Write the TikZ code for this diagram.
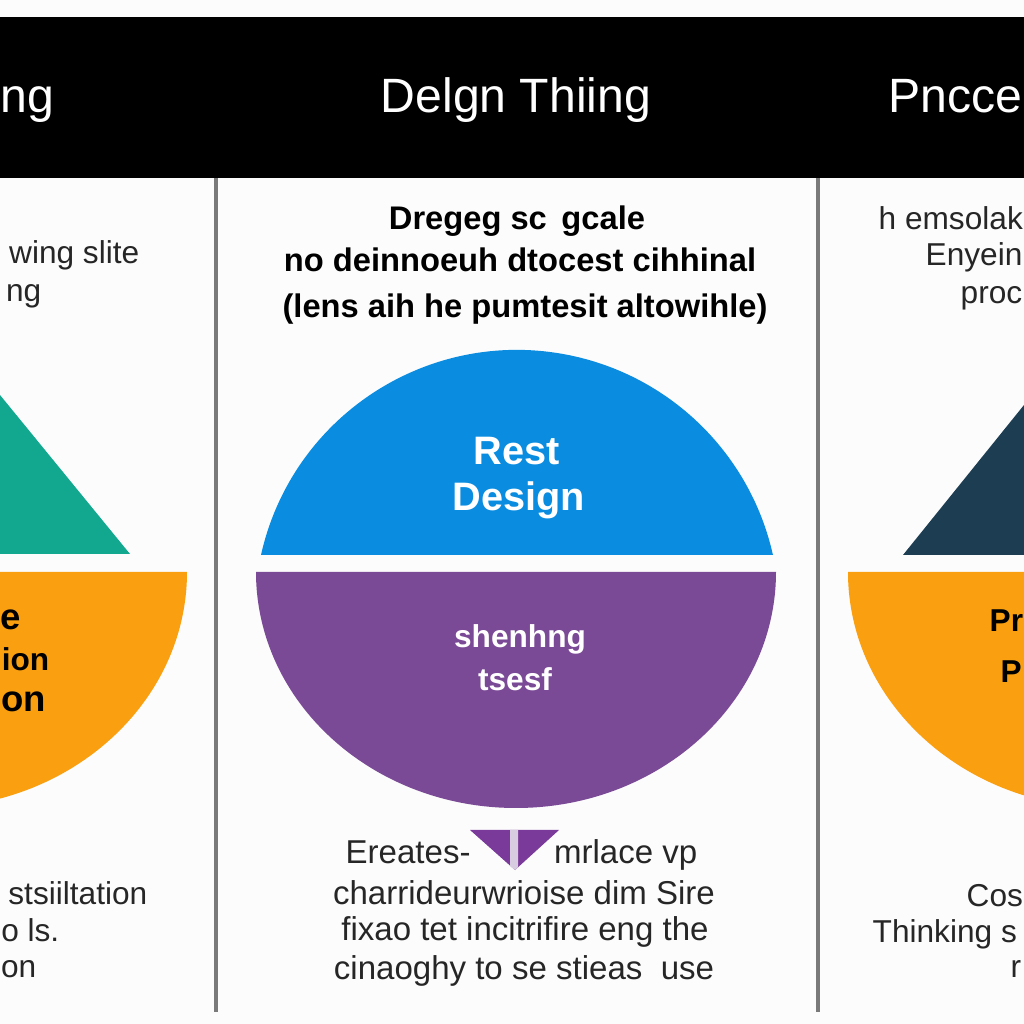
\documentclass[tikz,border=0pt]{standalone}
\usepackage{fontspec}
\setmainfont{Liberation Sans}
\definecolor{ruleGrey}{HTML}{7A7A7A}
\definecolor{capBlue}{HTML}{0A8CE0}
\definecolor{capPurple}{HTML}{7B4A96}
\definecolor{capTeal}{HTML}{12A88F}
\definecolor{capOrange}{HTML}{FA9F0F}
\definecolor{capNavy}{HTML}{1D3D52}
\definecolor{markPurple}{HTML}{7A3A9A}
\definecolor{markStripe}{HTML}{D8CCE0}
\tikzset{
  headtext/.style={anchor=base,inner sep=0pt,text=white,font=\fontsize{13.7}{14}\selectfont},
  bodytext/.style={anchor=base,inner sep=0pt,text=black!85,font=\fontsize{9}{9}\selectfont},
  lowtext/.style={bodytext,font=\fontsize{9.4}{9}\selectfont},
  leadtext/.style={bodytext,text=black,font=\fontsize{9.3}{9.3}\selectfont\bfseries},
  captext/.style={anchor=base,inner sep=0pt,font=\fontsize{10.4}{10}\selectfont\bfseries},
  edgetext/.style={captext,font=\fontsize{9}{9}\selectfont\bfseries},
  bluetext/.style={captext,text=white,font=\fontsize{11.3}{10}\selectfont\bfseries},
  purpletext/.style={captext,text=white,font=\fontsize{9}{9}\selectfont\bfseries},
  rule/.style={ruleGrey,line width=0.9pt}
}

\begin{document}
\begin{tikzpicture}
  \clip (0, 0) rectangle (10.24, 10.24);
  \fill[black!1] (0, 0) rectangle (10.24, 10.24);
  \fill[black] (0, 8.46) rectangle (10.24, 10.07);
  \draw[rule] (2.16, 8.46) -- (2.16, 0.12);
  \draw[rule] (8.18, 8.46) -- (8.18, 0.12);

  \fill[capBlue] (2.61, 4.69) arc[start angle=167.4,end angle=12.6,radius=2.623] -- cycle;
  \fill[capPurple] (2.56, 4.52) arc[start angle=180,end angle=360,x radius=2.6,y radius=2.36] -- cycle;
  \fill[capTeal] (1.30, 4.70) -- (0, 6.29) -- (0, 4.70) -- cycle;
  \fill[capOrange] (1.87, 4.52) arc[start angle=0,end angle=-90,x radius=2.6,y radius=2.36] -- (-0.73, 4.52) -- cycle;
  \fill[capNavy] (9.03, 4.69) -- (10.24, 6.19) -- (10.24, 4.69) -- cycle;
  \fill[capOrange] (8.48, 4.52) arc[start angle=180,end angle=270,x radius=2.6,y radius=2.36] -- (11.08, 4.52) -- cycle;
  \fill[markPurple] (4.70, 1.94) -- (5.59, 1.94) -- (5.15, 1.54) -- cycle;
  \fill[markStripe] (5.10, 1.94) -- (5.18, 1.94) -- (5.18, 1.57) -- (5.15, 1.54) -- (5.10, 1.58) -- cycle;

  \node[headtext,anchor=base east] (headleft) at (0.55, 9.11) {ng};
  \node[headtext] (headmid) at (5.16, 9.11) {Delgn Thiing};
  \node[headtext,anchor=base west] (headright) at (8.88, 9.11) {Pncce};

  \node[bodytext,anchor=base east] (leftone) at (1.40, 7.60) {wing slite};
  \node[bodytext,anchor=base east] (lefttwo) at (0.42, 7.22) {ng};

  \node[leadtext] (midone) at (5.17, 7.94) {Dregeg sc\, gcale};
  \node[leadtext] (midtwo) at (5.20, 7.52) {no deinnoeuh dtocest cihhinal};
  \node[leadtext] (midthree) at (5.25, 7.06) {(lens aih he pumtesit altowihle)};

  \node[bodytext,anchor=base west] (rightone) at (8.78, 7.94) {h emsolak};
  \node[bodytext,anchor=base west] (righttwo) at (9.25, 7.58) {Enyein};
  \node[bodytext,anchor=base west] (rightthree) at (9.60, 7.20) {proc};

  \node[bluetext] (capone) at (5.17, 5.59) {Rest};
  \node[bluetext] (captwo) at (5.19, 5.13) {Design};
  \node[purpletext] (capthree) at (5.20, 3.76) {shenhng};
  \node[purpletext] (capfour) at (5.15, 3.33) {tsesf};

  \node[captext,anchor=base east] (orangeone) at (0.22, 3.94) {e};
  \node[edgetext,anchor=base east] (orangetwo) at (0.50, 3.53) {ion};
  \node[captext,anchor=base east] (orangethree) at (0.47, 3.12) {on};
  \node[edgetext,anchor=base west] (orangefour) at (9.89, 3.92) {Pr};
  \node[edgetext,anchor=base west] (orangefive) at (10.00, 3.41) {P};

  \node[lowtext,anchor=base west] (lowone) at (3.45, 1.60) {Ereates-};
  \node[lowtext,anchor=base east] (lowtwo) at (6.98, 1.60) {mrlace vp};
  \node[lowtext] (lowthree) at (5.24, 1.20) {charrideurwrioise dim Sire};
  \node[lowtext] (lowfour) at (5.25, 0.83) {fixao tet incitrifire eng the};
  \node[lowtext] (lowfive) at (5.24, 0.45) {cinaoghy to se stieas\ \ use};

  \node[bodytext,anchor=base east] (leftlowone) at (1.48, 1.19) {stsiiltation};
  \node[bodytext,anchor=base east] (leftlowtwo) at (0.60, 0.82) {o ls.};
  \node[bodytext,anchor=base east] (leftlowthree) at (0.37, 0.46) {on};

  \node[bodytext,anchor=base west] (rightlowone) at (9.66, 1.18) {Cos};
  \node[bodytext,anchor=base west] (rightlowtwo) at (8.72, 0.81) {Thinking s};
  \node[bodytext,anchor=base west] (rightlowthree) at (10.10, 0.46) {r};
\end{tikzpicture}
\end{document}
